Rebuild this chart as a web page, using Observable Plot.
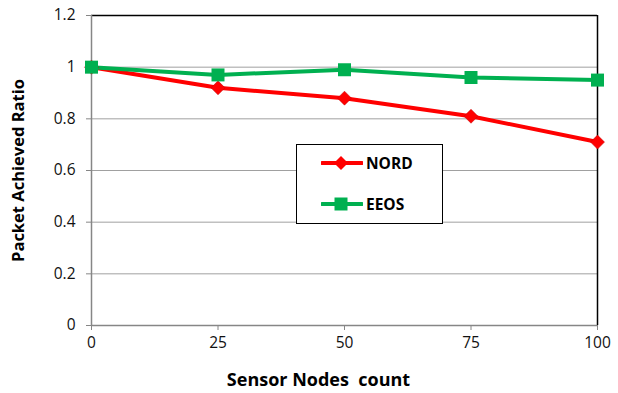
<!DOCTYPE html>
<html>
<head>
<meta charset="utf-8">
<script src="https://cdn.jsdelivr.net/npm/d3@7"></script>
<script src="https://cdn.jsdelivr.net/npm/@observablehq/plot@0.6"></script>
<style>
  html, body { margin: 0; padding: 0; background: #fff; }
  #chart { position: relative; width: 618px; height: 393px; font-family: "Open Sans", Lato, sans-serif; }
  #legend {
    position: absolute; left: 296px; top: 144px; width: 145px; height: 78px;
    background: #fff; border: 1.5px solid #000; box-sizing: content-box;
  }
  .item { position: absolute; left: 24px; display: flex; align-items: center; font-weight: bold; font-size: 15.5px; line-height: 16px; color: #000; }
  .item svg { margin-right: 3px; }
</style>
</head>
<body>
<div id="chart"></div>
<script>
// Packet achieved ratio vs. number of sensor nodes
const nodes = [0, 25, 50, 75, 100];
const nordRatio = [1.0, 0.92, 0.88, 0.81, 0.71];
const eeosRatio = [1.0, 0.97, 0.99, 0.96, 0.95];
const seriesNames = ["NORD", "EEOS"];
const seriesColors = ["#ff0000", "#00b050"];
const xTicks = [0, 25, 50, 75, 100];
const yTicks = [0, 0.2, 0.4, 0.6, 0.8, 1.0, 1.2];

const rows = [
  ...nodes.map((n, i) => ({series: "NORD", nodes: n, ratio: nordRatio[i]})),
  ...nodes.map((n, i) => ({series: "EEOS", nodes: n, ratio: eeosRatio[i]}))
];

// marker shapes: a square and a square turned 45°
const squareSymbol = {draw(ctx) { const h = 6.5; ctx.moveTo(-h, -h); ctx.lineTo(h, -h); ctx.lineTo(h, h); ctx.lineTo(-h, h); ctx.closePath(); }};
const diamondSymbol = {draw(ctx) { const h = 7; ctx.moveTo(0, -h); ctx.lineTo(h, 0); ctx.lineTo(0, h); ctx.lineTo(-h, 0); ctx.closePath(); }};

const fmt = d => String(+d.toFixed(1));

const plot = Plot.plot({
  width: 618,
  height: 393,
  marginLeft: 91,
  marginRight: 21,
  marginTop: 15,
  marginBottom: 68,
  style: {fontFamily: "'Open Sans', Lato, sans-serif", background: "#fff", color: "#000", overflow: "visible"},
  x: {domain: [0, 100]},
  y: {domain: [0, 1.2]},
  marks: [
    Plot.gridY(yTicks.filter(t => t > 0 && t < 1.2), {stroke: "#a0a0a0", strokeOpacity: 1, strokeWidth: 1}),
    Plot.ruleY([1.2], {stroke: "#000", strokeWidth: 1.5}),
    Plot.ruleX([100], {stroke: "#000", strokeWidth: 1.5}),
    Plot.axisY({ticks: yTicks, tickFormat: fmt, tickSize: 5, tickPadding: 11, fontSize: 15.5, stroke: "#868686", fill: "#111", label: null}),
    Plot.axisX({ticks: xTicks, tickSize: 5, tickPadding: 6, fontSize: 15.5, stroke: "#868686", fill: "#111", label: null}),
    Plot.ruleX([0], {stroke: "#868686", strokeWidth: 1.5}),
    Plot.ruleY([0], {stroke: "#868686", strokeWidth: 1.5}),
    Plot.line(rows.filter(d => d.series === "NORD"), {x: "nodes", y: "ratio", stroke: seriesColors[0], strokeWidth: 4}),
    Plot.line(rows.filter(d => d.series === "EEOS"), {x: "nodes", y: "ratio", stroke: seriesColors[1], strokeWidth: 4}),
    Plot.dot(rows.filter(d => d.series === "NORD"), {x: "nodes", y: "ratio", symbol: diamondSymbol, fill: seriesColors[0], stroke: "#c00000", strokeWidth: 0.5}),
    Plot.dot(rows.filter(d => d.series === "EEOS"), {x: "nodes", y: "ratio", symbol: squareSymbol, fill: seriesColors[1], stroke: "none"}),
    Plot.text(["Sensor Nodes\u00a0 count"], {frameAnchor: "bottom", lineAnchor: "middle", textAnchor: "middle", dx: -26, dy: 55, fontSize: 18, fontWeight: "bold", fill: "#000"}),
    Plot.text(["Packet Achieved Ratio"], {frameAnchor: "left", lineAnchor: "middle", textAnchor: "middle", dx: -73, dy: 0, rotate: -90, fontSize: 16.5, fontWeight: "bold", fill: "#000"})
  ]
});

const chart = document.getElementById("chart");
chart.appendChild(plot);

// legend box
const legend = document.createElement("div");
legend.id = "legend";
const symbolPaths = [
  "M20,1 L27,8 L20,15 L13,8 Z",
  "M13.5,1.5 L26.5,1.5 L26.5,14.5 L13.5,14.5 Z"
];
seriesNames.forEach((name, i) => {
  const item = document.createElement("div");
  item.className = "item";
  item.style.top = (i === 0 ? 10 : 51) + "px";
  item.innerHTML = `<svg width="42" height="16"><line x1="1" y1="8" x2="41" y2="8" stroke="${seriesColors[i]}" stroke-width="4" stroke-linecap="round"/><path d="${symbolPaths[i]}" fill="${seriesColors[i]}"/></svg><span>${name}</span>`;
  legend.appendChild(item);
});
chart.appendChild(legend);
</script>
</body>
</html>
